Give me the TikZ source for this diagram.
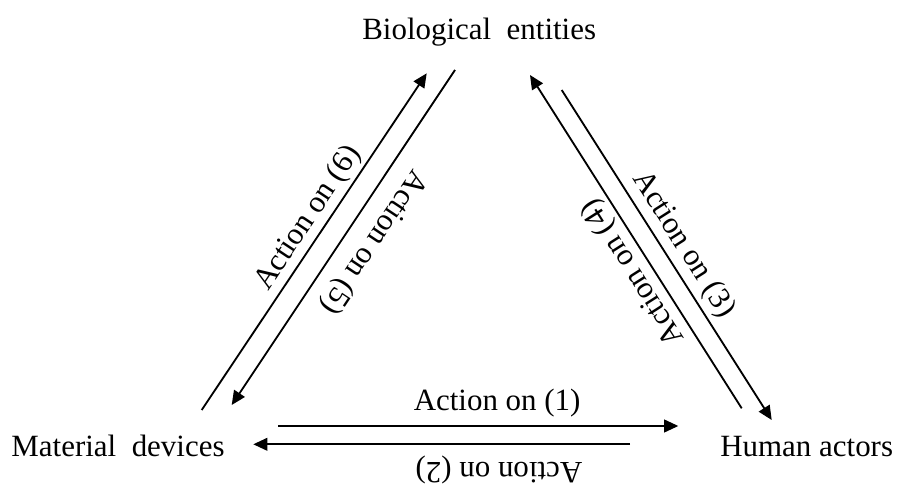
\documentclass[tikz,border=0pt]{standalone}
\usepackage{fontspec}
\setmainfont{Liberation Serif}
\usetikzlibrary{arrows.meta}

\begin{document}
\begin{tikzpicture}[x=0.025cm, y=-0.025cm,
        entity/.style={anchor=base, inner sep=0pt, font=\fontsize{22}{26}\selectfont},
        arrow/.style={-{Triangle[length=10pt,width=9pt]}, line width=1.3pt},
        act/.style={sloped, anchor=base, inner sep=0pt, font=\fontsize{22}{26}\selectfont},
        flip/.style={act, allow upside down}
    ]
        \useasboundingbox (0,0) rectangle (899,484);

        \node (bio) [entity] at (479.2,40) {Biological\ \ entities};
        \node (mat) [entity] at (118,456.7) {Material\ \ devices};
        \node (hum) [entity] at (806.7,456.7) {Human actors};

        % Material devices -- Biological entities
        \coordinate (l6s) at (201.7,410);
        \coordinate (l6e) at (426.7,73.3);
        \coordinate (l5s) at (455,70);
        \coordinate (l5e) at (231.7,405);
        \draw [arrow] (l6s) -- node[act, pos=0.54, yshift=7.5pt] {Action on (6)} (l6e);
        \draw [arrow] (l5s) -- node[flip, pos=0.468, yshift=14.2pt] {Action on (5)} (l5e);

        % Biological entities -- Human actors
        \coordinate (r3s) at (561.7,90);
        \coordinate (r3e) at (771.7,420);
        \coordinate (r4s) at (741.7,408.3);
        \coordinate (r4e) at (530,75);
        \draw [arrow] (r3s) -- node[act, pos=0.5, yshift=8.5pt] {Action on (3)} (r3e);
        \draw [arrow] (r4s) -- node[flip, pos=0.438, yshift=7.8pt] {Action on (4)} (r4e);

        % Material devices -- Human actors
        \coordinate (b1s) at (278.3,426);
        \coordinate (b1e) at (678.3,426);
        \coordinate (b2s) at (630,444.3);
        \coordinate (b2e) at (253.3,444.3);
        \draw [arrow] (b1s) -- node[act, pos=0.547, yshift=10.9pt] {Action on (1)} (b1e);
        \draw [arrow] (b2s) -- node[flip, pos=0.348, yshift=12.6pt] {Action on (2)} (b2e);
    \end{tikzpicture}
\end{document}
